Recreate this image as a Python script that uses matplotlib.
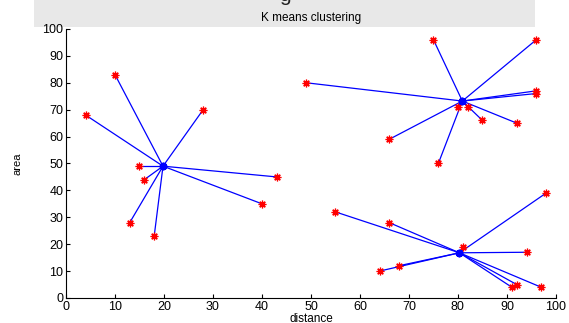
import matplotlib
matplotlib.use("Agg")
import matplotlib.pyplot as plt
from matplotlib.patches import Rectangle

plt.rcParams['font.family'] = ['Liberation Sans', 'DejaVu Sans']

# cluster centroids
centroid_x = [19.8, 80.9, 80.3]
centroid_y = [49.0, 73.2, 16.8]

# cluster 1 points
c1_x = [4, 10, 28, 15, 16, 43, 40, 13, 18]
c1_y = [68, 83, 70, 49, 44, 45, 35, 28, 23]
# cluster 2 points
c2_x = [75, 96, 49, 96, 96, 80, 82, 85, 92, 66, 76]
c2_y = [96, 96, 80, 77, 76, 71, 71, 66, 65, 59, 50]
# cluster 3 points
c3_x = [98, 55, 66, 81, 94, 68, 64, 91, 92, 97]
c3_y = [39, 32, 28, 19, 17, 12, 10, 4, 5, 4]

clusters_x = [c1_x, c2_x, c3_x]
clusters_y = [c1_y, c2_y, c3_y]

xticks = [0, 10, 20, 30, 40, 50, 60, 70, 80, 90, 100]
yticks = [0, 10, 20, 30, 40, 50, 60, 70, 80, 90, 100]

fig = plt.figure(figsize=(5.69, 3.23), dpi=100)
fig.patch.set_facecolor('white')

# gray header strip (cropped figure title area)
fig.patches.append(Rectangle((0.06, 0.915), 0.88, 0.085, transform=fig.transFigure,
                             facecolor='#e8e8e8', edgecolor='none', zorder=-5))
fig.text(0.5, 1.015, 'g', fontsize=15, ha='center', va='center', color='#222222', zorder=-4)

ax = fig.add_axes([0.116, 0.0774, 0.861, 0.833])
ax.patch.set_alpha(0)

for cx, cy, px, py in zip(centroid_x, centroid_y, clusters_x, clusters_y):
    for x, y in zip(px, py):
        ax.plot([x, cx], [y, cy], color='#0000ff', lw=0.9, zorder=2)
    ax.plot(px, py, linestyle='none', marker=(8, 2, 0), color='#ff0000',
            markersize=5.5, markeredgewidth=0.9, zorder=3)
ax.plot(centroid_x, centroid_y, linestyle='none', marker=(8, 2, 0), color='#0000ff',
        markersize=5.5, markeredgewidth=1.4, zorder=4)

ax.set_xlim(0, 100)
ax.set_ylim(0, 100)
ax.set_xticks(xticks)
ax.set_yticks(yticks)
ax.tick_params(direction='in', length=3, labelsize=9, width=0.8, pad=2)
ax.spines['top'].set_visible(False)
ax.spines['right'].set_visible(False)
ax.set_title('K means clustering', fontsize=8.5, pad=6)
ax.set_xlabel('distance', fontsize=8.5, labelpad=0)
ax.set_ylabel('area', fontsize=8, labelpad=14)

fig.savefig('out.png', dpi=100)
